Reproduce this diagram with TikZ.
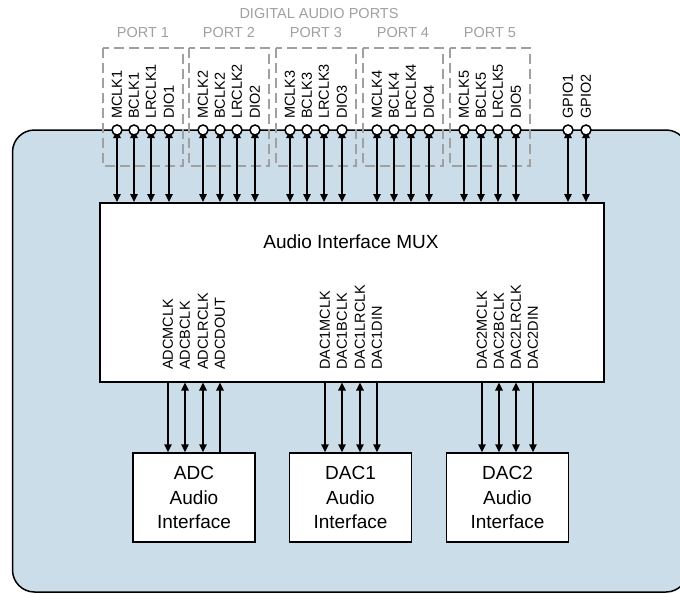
\documentclass[tikz,border=0pt]{standalone}
\usepackage{fontspec}
\setmainfont{Liberation Sans}
\usetikzlibrary{arrows.meta,positioning}
\definecolor{chipblue}{RGB}{203,221,233}
\definecolor{portgray}{RGB}{160,160,160}

\begin{document}
\begin{tikzpicture}[
x=1pt, y=-1pt,
pin/.style={draw, circle, fill=white, line width=1.5pt, inner sep=0pt, minimum size=10pt},
pinlabel/.style={rotate=90, anchor=west, inner sep=0pt, font=\fontsize{14.5}{15}\selectfont},
portbox/.style={draw=portgray, dash pattern=on 10pt off 5pt, line width=1.4pt},
porttitle/.style={text=portgray, inner sep=0pt, font=\fontsize{14.5}{15}\selectfont},
block/.style={draw, fill=white, line width=1.5pt, minimum width=122pt, minimum height=89pt, align=center, font=\fontsize{19}{24.5}\selectfont},
sigboth/.style={{Triangle[length=8pt,width=7.5pt]}-{Triangle[length=8pt,width=7.5pt]}, line width=1.6pt},
sigdown/.style={-{Triangle[length=8pt,width=7.5pt]}, line width=1.6pt},
sigup/.style={{Triangle[length=8pt,width=7.5pt]}-, line width=1.6pt}
]
\useasboundingbox (0,0) rectangle (680,594);

% chip outline
\begin{scope}
\clip (0,0) rectangle (680,594);
\draw[fill=chipblue, line width=1.5pt, rounded corners=22pt] (12.5,130) rectangle (688,592);
\end{scope}

\node[porttitle] (title) at (319,14) {DIGITAL AUDIO PORTS};

% port groups
\foreach \p/\x in {1/117,2/203,3/290,4/377,5/464} {
  \draw[portbox] (\x-14,48) rectangle (\x+66,166);
  \node[porttitle] (port\p) at (\x+26,33) {PORT \p};
}

\node[draw, fill=white, line width=1.5pt, minimum width=504pt, minimum height=179pt, anchor=north west] (mux) at (99,202) {};
\node[font=\fontsize{19}{24}\selectfont] (muxtitle) at (351,242) {Audio Interface MUX};

% port pins
\foreach \p/\x in {1/117,2/203,3/290,4/377,5/464} {
  \foreach \s/\d in {MCLK/0,BCLK/17,LRCLK/34,DIO/52} {
    \draw[sigboth] (\x+\d,130) coordinate (\s\p) -- (\s\p |- mux.north);
    \node[pin] (\s\p pin) at (\s\p) {};
    \node[pinlabel] (\s\p lbl) at (\x+\d,119) {\s\p};
  }
}
\foreach \s/\x in {GPIO1/568,GPIO2/586} {
  \draw[sigboth] (\x,130) coordinate (\s) -- (\s |- mux.north);
  \node[pin] (\s pin) at (\s) {};
  \node[pinlabel] (\s lbl) at (\x,119) {\s};
}

% converters
\node[block] (adc) at (194,497.5) {ADC\\Audio\\Interface};
\node[block] (dac1) at (350.5,497.5) {DAC1\\Audio\\Interface};
\node[block] (dac2) at (507.5,497.5) {DAC2\\Audio\\Interface};

\foreach \s/\x/\t in {ADCMCLK/168/sigdown, ADCBCLK/185/sigboth, ADCLRCLK/203/sigboth, ADCDOUT/220/sigup,
  DAC1MCLK/325/sigdown, DAC1BCLK/342/sigboth, DAC1LRCLK/360/sigboth, DAC1DIN/377/sigdown,
  DAC2MCLK/482/sigdown, DAC2BCLK/499/sigboth, DAC2LRCLK/516/sigboth, DAC2DIN/533/sigdown} {
  \node[pinlabel] (\s) at (\x,370) {\s};
  \draw[\t] (\s |- mux.south) -- (\s |- adc.north);
}

\end{tikzpicture}
\end{document}
